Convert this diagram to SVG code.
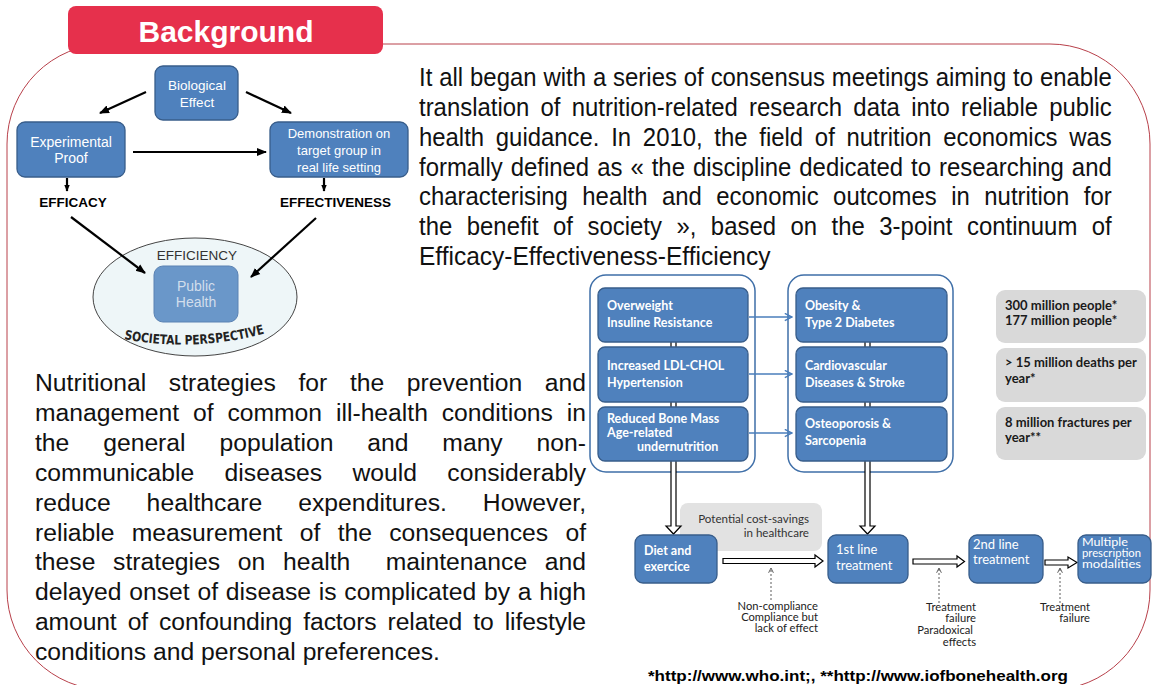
<svg xmlns="http://www.w3.org/2000/svg" width="1152" height="685" viewBox="0 0 1152 685">
<defs>
<style>
.bx{fill:#4f81bd;stroke:#385d8a;stroke-width:1.3}
.wt{fill:#fff;font-family:"Liberation Sans",Arial,sans-serif;text-anchor:middle}
.fb{fill:#fff;font-family:Lato,"Open Sans",sans-serif;font-weight:bold;font-size:12.5px}
.fr{fill:#fff;font-family:Lato,"Open Sans",sans-serif;font-size:13px}
.gbx{fill:#d9d9d9}
.gt{fill:#1a1a1a;font-family:Lato,"Open Sans",sans-serif;font-weight:bold;font-size:13px}
.sm{font-family:Lato,"Open Sans",sans-serif;font-size:11.2px;fill:#222;text-anchor:end}
.para{font-family:"Liberation Sans",Arial,sans-serif;fill:#111}
.hollow{fill:#fff;stroke:#000;stroke-width:1.2}
.col{fill:#fff;stroke:#3f6fa8;stroke-width:1.5}
.blk{stroke:#000;stroke-width:2.2;fill:none}
.bl{stroke:#4a7ebb;stroke-width:1.6;fill:none}
.dsh{stroke:#333;stroke-width:0.8;stroke-dasharray:2 2;fill:none}
.lbl{font-family:"Liberation Sans",Arial,sans-serif;font-weight:bold;fill:#000;text-anchor:middle;font-size:13.5px}
</style>
<marker id="ah" viewBox="0 0 10 10" refX="9" refY="5" markerWidth="10" markerHeight="10" markerUnits="userSpaceOnUse" orient="auto"><path d="M0,1 L10,5 L0,9 z" fill="#000"/></marker>
<marker id="ahs" viewBox="0 0 10 10" refX="9" refY="5" markerWidth="7" markerHeight="7" markerUnits="userSpaceOnUse" orient="auto"><path d="M0,1 L10,5 L0,9 z" fill="#000"/></marker>
<marker id="ab" viewBox="0 0 10 10" refX="9" refY="5" markerWidth="9" markerHeight="9" markerUnits="userSpaceOnUse" orient="auto"><path d="M1,1 L9,5 L1,9" fill="none" stroke="#4a7ebb" stroke-width="1.6"/></marker>
<marker id="ad" viewBox="0 0 10 10" refX="9" refY="5" markerWidth="6" markerHeight="6" markerUnits="userSpaceOnUse" orient="auto"><path d="M1,1 L9,5 L1,9" fill="none" stroke="#333" stroke-width="1.3"/></marker>
</defs>
<rect width="1152" height="685" fill="#fff"/>

<!-- outer frame -->
<rect x="7" y="44" width="1143" height="646" rx="100" ry="100" fill="none" stroke="#b8404a" stroke-width="1"/>

<g id="header">
<rect x="68" y="6" width="315" height="48" rx="8" fill="#e6304c"/>
<text x="226" y="42" font-family="Liberation Sans,Arial,sans-serif" font-weight="bold" font-size="30" fill="#fff" text-anchor="middle">Background</text>
</g>

<!-- left diagram -->
<g id="efficiency-ellipse">
<ellipse cx="195" cy="297" rx="102" ry="59" fill="#eef6f8" stroke="#444" stroke-width="1"/>
<text x="197" y="260" font-family="Liberation Sans,Arial,sans-serif" font-size="13.5" fill="#333" text-anchor="middle">EFFICIENCY</text>
<path id="socpath" d="M124,339 Q196,353 270,332" fill="none"/>
<text font-family="DejaVu Sans Condensed,DejaVu Sans,sans-serif" font-stretch="condensed" font-weight="bold" font-size="13" fill="#222"><textPath href="#socpath" textLength="142" lengthAdjust="spacingAndGlyphs">SOCIETAL PERSPECTIVE</textPath></text>
</g>

<g id="left-connectors">
<line class="blk" x1="146" y1="92" x2="100" y2="113" marker-end="url(#ah)"/>
<line class="blk" x1="246" y1="92" x2="291" y2="113" marker-end="url(#ah)"/>
<line class="blk" x1="133" y1="152" x2="266" y2="152" marker-end="url(#ah)"/>
<line class="blk" x1="67" y1="178" x2="67" y2="191" marker-end="url(#ahs)"/>
<line class="blk" x1="324" y1="178" x2="324" y2="191" marker-end="url(#ahs)"/>
<line class="blk" x1="71" y1="217" x2="145" y2="273" marker-end="url(#ah)"/>
<line class="blk" x1="316" y1="218" x2="251" y2="277" marker-end="url(#ah)"/>
</g>

<g id="biological-effect">
<rect class="bx" x="155" y="66" width="83" height="54" rx="8"/>
<text class="wt" font-size="13.5"><tspan x="197" y="90">Biological</tspan><tspan x="197" y="107">Effect</tspan></text>
</g>
<g id="experimental-proof">
<rect class="bx" x="17" y="122" width="108" height="55" rx="8"/>
<text class="wt" font-size="14"><tspan x="71" y="147">Experimental</tspan><tspan x="71" y="163">Proof</tspan></text>
</g>
<g id="demonstration">
<rect class="bx" x="270" y="122" width="138" height="55" rx="8"/>
<text class="wt" font-size="13"><tspan x="339" y="138">Demonstration on</tspan><tspan x="339" y="155">target group in</tspan><tspan x="339" y="172">real life setting</tspan></text>
</g>
<g id="efficacy"><text class="lbl" x="73" y="207">EFFICACY</text></g>
<g id="effectiveness"><text class="lbl" x="335.5" y="207">EFFECTIVENESS</text></g>
<g id="public-health">
<rect x="154" y="266" width="84" height="56" rx="9" fill="#6a97c9" stroke="#5a82b3" stroke-width="1"/>
<text class="wt" font-size="14" style="fill:#d2deec"><tspan x="196" y="291">Public</tspan><tspan x="196" y="307">Health</tspan></text>
</g>

<!-- top paragraph -->
<g id="intro-text" transform="translate(419 0) scale(0.92 1)" class="para" font-size="26">
<text x="0" y="86.5" word-spacing="0.3" textLength="753" lengthAdjust="spacing">It all began with a series of consensus meetings aiming to enable</text>
<text x="0" y="116.2" word-spacing="5.0" textLength="753" lengthAdjust="spacing">translation of nutrition-related research data into reliable public</text>
<text x="0" y="146" word-spacing="5.5" textLength="753" lengthAdjust="spacing">health guidance. In 2010, the field of nutrition economics was</text>
<text x="0" y="175.7" word-spacing="1.5" textLength="753" lengthAdjust="spacing">formally defined as « the discipline dedicated to researching and</text>
<text x="0" y="205.5" word-spacing="8.5" textLength="753" lengthAdjust="spacing">characterising health and economic outcomes in nutrition for</text>
<text x="0" y="235.2" word-spacing="8.5" textLength="753" lengthAdjust="spacing">the benefit of society », based on the 3-point continuum of</text>
<text x="0" y="265" textLength="382" lengthAdjust="spacingAndGlyphs">Efficacy-Effectiveness-Efficiency</text>
</g>

<!-- bottom-left paragraph -->
<g id="strategy-text" class="para" font-size="24.7">
<text x="35" y="391" word-spacing="15.75" textLength="551" lengthAdjust="spacing">Nutritional strategies for the prevention and</text>
<text x="35" y="421" word-spacing="6.97" textLength="551" lengthAdjust="spacing">management of common ill-health conditions in</text>
<text x="35" y="451" word-spacing="27" textLength="551" lengthAdjust="spacing">the general population and many non-</text>
<text x="35" y="481" word-spacing="23.5" textLength="551" lengthAdjust="spacing">communicable diseases would considerably</text>
<text x="35" y="511" word-spacing="29" textLength="551" lengthAdjust="spacing">reduce healthcare expenditures. However,</text>
<text x="35" y="541" word-spacing="10.5" textLength="551" lengthAdjust="spacing">reliable measurement of the consequences of</text>
<text x="35" y="570" word-spacing="10.8" textLength="551" lengthAdjust="spacing">these strategies on health&#160; maintenance and</text>
<text x="35" y="600" word-spacing="0.9" textLength="551" lengthAdjust="spacing">delayed onset of disease is complicated by a high</text>
<text x="35" y="630" word-spacing="4.4" textLength="551" lengthAdjust="spacing">amount of confounding factors related to lifestyle</text>
<text x="35" y="660">conditions and personal preferences.</text>
</g>

<!-- right flow diagram -->
<g id="risk-column"><rect class="col" x="590" y="275" width="165" height="197" rx="16"/></g>
<g id="disease-column"><rect class="col" x="788" y="275" width="165" height="197" rx="16"/></g>

<g id="cost-savings">
<rect x="680" y="503" width="142" height="48" rx="8" fill="#e2e2e2"/>
<text class="sm" style="font-size:11.6px;fill:#333"><tspan x="809" y="523">Potential cost-savings</tspan><tspan x="809" y="537">in healthcare</tspan></text>
</g>

<g id="flow-connectors">
<polygon class="hollow" points="671,300 676,300 676,526 681,526 673.5,534 666,526 671,526"/>
<polygon class="hollow" points="865,300 870,300 870,526 875,526 867.5,534 860,526 865,526"/>
<polygon class="hollow" points="723,558.5 815,558.5 815,555 823,561 815,567 815,563.5 723,563.5"/>
<polygon class="hollow" points="913,559 957,559 957,556 964.5,561.5 957,567 957,564 913,564"/>
<polygon class="hollow" points="1045,560 1068,560 1068,557 1077,562.5 1068,568 1068,565 1045,565"/>
<line class="bl" x1="749" y1="317" x2="792" y2="317" marker-end="url(#ab)"/>
<line class="bl" x1="749" y1="374" x2="792" y2="374" marker-end="url(#ab)"/>
<line class="bl" x1="749" y1="433" x2="792" y2="433" marker-end="url(#ab)"/>
<line class="dsh" x1="771" y1="600" x2="771" y2="568" marker-end="url(#ad)"/>
<line class="dsh" x1="939" y1="603" x2="939" y2="568" marker-end="url(#ad)"/>
<line class="dsh" x1="1060" y1="603" x2="1060" y2="568" marker-end="url(#ad)"/>
</g>

<g id="overweight">
<rect class="bx" x="598" y="288" width="150" height="54" rx="7"/>
<text class="fb"><tspan x="607" y="310">Overweight</tspan><tspan x="607" y="327">Insuline Resistance</tspan></text>
</g>
<g id="ldl">
<rect class="bx" x="598" y="347" width="150" height="55" rx="7"/>
<text class="fb"><tspan x="607" y="370">Increased LDL-CHOL</tspan><tspan x="607" y="387">Hypertension</tspan></text>
</g>
<g id="bone-mass">
<rect class="bx" x="598" y="407" width="150" height="54" rx="7"/>
<text class="fb"><tspan x="607" y="423">Reduced Bone Mass</tspan><tspan x="607" y="436.5">Age-related</tspan><tspan x="637" y="451">undernutrition</tspan></text>
</g>
<g id="obesity">
<rect class="bx" x="796" y="288" width="151" height="54" rx="7"/>
<text class="fb"><tspan x="805" y="310">Obesity &amp;</tspan><tspan x="805" y="327">Type 2 Diabetes</tspan></text>
</g>
<g id="cardio">
<rect class="bx" x="796" y="347" width="151" height="55" rx="7"/>
<text class="fb"><tspan x="805" y="370">Cardiovascular</tspan><tspan x="805" y="387">Diseases &amp; Stroke</tspan></text>
</g>
<g id="osteo">
<rect class="bx" x="796" y="407" width="151" height="54" rx="7"/>
<text class="fb"><tspan x="805" y="428">Osteoporosis &amp;</tspan><tspan x="805" y="445">Sarcopenia</tspan></text>
</g>

<g id="stat-people">
<rect class="gbx" x="996" y="290" width="150" height="53" rx="9"/>
<text class="gt"><tspan x="1005" y="310">300 million people*</tspan><tspan x="1005" y="325">177 million people*</tspan></text>
</g>
<g id="stat-deaths">
<rect class="gbx" x="996" y="348" width="150" height="54" rx="9"/>
<text class="gt"><tspan x="1005" y="367">&gt; 15 million deaths per</tspan><tspan x="1005" y="383">year*</tspan></text>
</g>
<g id="stat-fractures">
<rect class="gbx" x="996" y="407" width="150" height="53" rx="9"/>
<text class="gt"><tspan x="1005" y="427">8 million fractures per</tspan><tspan x="1005" y="442">year**</tspan></text>
</g>

<g id="diet">
<rect class="bx" x="635" y="535" width="82" height="48" rx="8"/>
<text class="fb"><tspan x="644" y="555">Diet and</tspan><tspan x="644" y="571">exercice</tspan></text>
</g>
<g id="first-line">
<rect class="bx" x="828" y="535" width="80" height="48" rx="8"/>
<text class="fr"><tspan x="836" y="554">1st line</tspan><tspan x="836" y="570">treatment</tspan></text>
</g>
<g id="second-line">
<rect class="bx" x="969" y="535" width="74" height="48" rx="8"/>
<text class="fr"><tspan x="973" y="549">2nd line</tspan><tspan x="973" y="564">treatment</tspan></text>
</g>
<g id="multiple">
<rect class="bx" x="1078" y="535" width="73" height="48" rx="8"/>
<text class="fr" style="font-size:10.5px"><tspan x="1082" y="546" textLength="46" lengthAdjust="spacingAndGlyphs">Multiple</tspan><tspan x="1082" y="557" textLength="59" lengthAdjust="spacingAndGlyphs">prescription</tspan><tspan x="1082" y="568" textLength="59" lengthAdjust="spacingAndGlyphs">modalities</tspan></text>
</g>

<g id="labels-nc"><text class="sm"><tspan x="818" y="610">Non-compliance</tspan><tspan x="818" y="621">Compliance but</tspan><tspan x="818" y="632">lack of effect</tspan></text></g>
<g id="labels-tf1"><text class="sm"><tspan x="976" y="611">Treatment</tspan><tspan x="976" y="622">failure</tspan><tspan x="973" y="634">Paradoxical</tspan><tspan x="976" y="646">effects</tspan></text></g>
<g id="labels-tf2"><text class="sm"><tspan x="1090" y="611">Treatment</tspan><tspan x="1090" y="622">failure</tspan></text></g>

<g id="footer"><text x="648" y="681" font-family="Liberation Sans,Arial,sans-serif" font-weight="bold" font-size="15" fill="#000" textLength="420" lengthAdjust="spacingAndGlyphs">*http://www.who.int;, **http://www.iofbonehealth.org</text></g>
</svg>
